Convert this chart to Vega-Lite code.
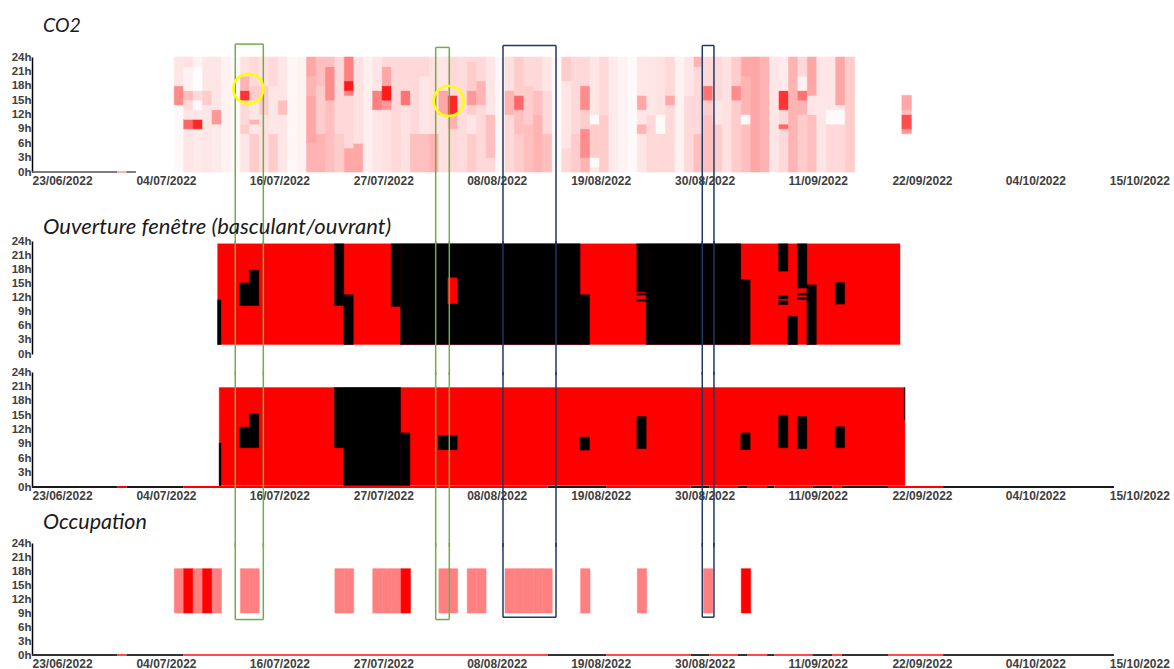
{
"$schema": "https://vega.github.io/schema/vega-lite/v6.json",
"padding": {"left": 11, "top": 16, "right": 4, "bottom": 0},
"background": "#ffffff",
"bounds": "flush",
"spacing": 18,
"config": {
  "view": {"stroke": null},
  "font": "Liberation Sans",
  "axis": {"labelFont": "Liberation Sans", "labelFontWeight": "bold", "labelColor": "#404040", "title": null, "grid": false, "ticks": false, "labelOverlap": false, "labelFlush": false, "labelSeparation": 0},
  "axisX": {"labelFontSize": 12},
  "axisY": {"labelFontSize": 11.5, "labelOverlap": false, "tickCount": 12},
  "title": {"font": "Lato", "fontStyle": "italic", "fontWeight": "normal", "fontSize": 19, "anchor": "start", "frame": "group", "color": "#1a1a1a", "baseline": "alphabetic", "dx": 11}
},
"datasets": {
  "co2": [
{"d":"2022-07-08","a":0,"b":14,"v":430},{"d":"2022-07-08","a":14,"b":18,"v":900},{"d":"2022-07-08","a":18,"b":24,"v":510},
{"d":"2022-07-09","a":0,"b":9,"v":510},{"d":"2022-07-09","a":9,"b":11,"v":1060},{"d":"2022-07-09","a":11,"b":13,"v":510},{"d":"2022-07-09","a":13,"b":15,"v":560},{"d":"2022-07-09","a":15,"b":17,"v":680},{"d":"2022-07-09","a":17,"b":22,"v":455},{"d":"2022-07-09","a":22,"b":24,"v":530},
{"d":"2022-07-10","a":0,"b":9,"v":490},{"d":"2022-07-10","a":9,"b":11,"v":1340},{"d":"2022-07-10","a":11,"b":13,"v":510},{"d":"2022-07-10","a":13,"b":15,"v":430},{"d":"2022-07-10","a":15,"b":17,"v":560},{"d":"2022-07-10","a":17,"b":22,"v":410},{"d":"2022-07-10","a":22,"b":24,"v":455},
{"d":"2022-07-11","a":0,"b":14,"v":510},{"d":"2022-07-11","a":14,"b":17,"v":620},{"d":"2022-07-11","a":17,"b":24,"v":510},
{"d":"2022-07-12","a":0,"b":10,"v":490},{"d":"2022-07-12","a":10,"b":13,"v":840},{"d":"2022-07-12","a":13,"b":24,"v":510},
{"d":"2022-07-13","a":0,"b":24,"v":455},
{"d":"2022-07-14","a":0,"b":24,"v":420},
{"d":"2022-07-15","a":0,"b":8,"v":510},{"d":"2022-07-15","a":8,"b":10,"v":620},{"d":"2022-07-15","a":10,"b":15,"v":565},{"d":"2022-07-15","a":15,"b":17,"v":1280},{"d":"2022-07-15","a":17,"b":20,"v":730},{"d":"2022-07-15","a":20,"b":24,"v":530},
{"d":"2022-07-16","a":0,"b":8,"v":620},{"d":"2022-07-16","a":8,"b":10,"v":510},{"d":"2022-07-16","a":10,"b":11,"v":730},{"d":"2022-07-16","a":11,"b":15,"v":510},{"d":"2022-07-16","a":15,"b":18,"v":620},{"d":"2022-07-16","a":18,"b":24,"v":565},
{"d":"2022-07-17","a":0,"b":12,"v":530},{"d":"2022-07-17","a":12,"b":18,"v":620},{"d":"2022-07-17","a":18,"b":24,"v":530},
{"d":"2022-07-18","a":0,"b":8,"v":620},{"d":"2022-07-18","a":8,"b":18,"v":510},{"d":"2022-07-18","a":18,"b":24,"v":565},
{"d":"2022-07-19","a":0,"b":12,"v":510},{"d":"2022-07-19","a":12,"b":15,"v":675},{"d":"2022-07-19","a":15,"b":24,"v":510},
{"d":"2022-07-20","a":0,"b":24,"v":433},
{"d":"2022-07-21","a":0,"b":24,"v":455},
{"d":"2022-07-22","a":0,"b":6,"v":730},{"d":"2022-07-22","a":6,"b":16,"v":785},{"d":"2022-07-22","a":16,"b":20,"v":730},{"d":"2022-07-22","a":20,"b":24,"v":785},
{"d":"2022-07-23","a":0,"b":8,"v":730},{"d":"2022-07-23","a":8,"b":18,"v":620},{"d":"2022-07-23","a":18,"b":24,"v":675},
{"d":"2022-07-24","a":0,"b":15,"v":675},{"d":"2022-07-24","a":15,"b":22,"v":895},{"d":"2022-07-24","a":22,"b":24,"v":675},
{"d":"2022-07-25","a":0,"b":8,"v":620},{"d":"2022-07-25","a":8,"b":24,"v":565},
{"d":"2022-07-26","a":0,"b":5,"v":785},{"d":"2022-07-26","a":5,"b":16,"v":565},{"d":"2022-07-26","a":16,"b":17,"v":950},{"d":"2022-07-26","a":17,"b":19,"v":1390},{"d":"2022-07-26","a":19,"b":24,"v":950},
{"d":"2022-07-27","a":0,"b":6,"v":785},{"d":"2022-07-27","a":6,"b":24,"v":530},
{"d":"2022-07-28","a":0,"b":24,"v":470},
{"d":"2022-07-29","a":0,"b":13,"v":510},{"d":"2022-07-29","a":13,"b":17,"v":950},{"d":"2022-07-29","a":17,"b":24,"v":510},
{"d":"2022-07-30","a":0,"b":13,"v":530},{"d":"2022-07-30","a":13,"b":15,"v":840},{"d":"2022-07-30","a":15,"b":18,"v":1390},{"d":"2022-07-30","a":18,"b":22,"v":785},{"d":"2022-07-30","a":22,"b":24,"v":565},
{"d":"2022-07-31","a":0,"b":24,"v":565},
{"d":"2022-08-01","a":0,"b":14,"v":530},{"d":"2022-08-01","a":14,"b":17,"v":1005},{"d":"2022-08-01","a":17,"b":24,"v":565},
{"d":"2022-08-02","a":0,"b":8,"v":675},{"d":"2022-08-02","a":8,"b":24,"v":565},
{"d":"2022-08-03","a":0,"b":8,"v":675},{"d":"2022-08-03","a":8,"b":20,"v":510},{"d":"2022-08-03","a":20,"b":24,"v":565},
{"d":"2022-08-04","a":0,"b":8,"v":730},{"d":"2022-08-04","a":8,"b":24,"v":530},
{"d":"2022-08-05","a":0,"b":12,"v":530},{"d":"2022-08-05","a":12,"b":17,"v":785},{"d":"2022-08-05","a":17,"b":24,"v":510},
{"d":"2022-08-06","a":0,"b":9,"v":565},{"d":"2022-08-06","a":9,"b":12,"v":730},{"d":"2022-08-06","a":12,"b":16,"v":1335},{"d":"2022-08-06","a":16,"b":24,"v":565},
{"d":"2022-08-07","a":0,"b":24,"v":550},
{"d":"2022-08-08","a":0,"b":8,"v":620},{"d":"2022-08-08","a":8,"b":12,"v":510},{"d":"2022-08-08","a":12,"b":14,"v":620},{"d":"2022-08-08","a":14,"b":17,"v":840},{"d":"2022-08-08","a":17,"b":23,"v":620},{"d":"2022-08-08","a":23,"b":24,"v":565},
{"d":"2022-08-09","a":0,"b":14,"v":565},{"d":"2022-08-09","a":14,"b":19,"v":730},{"d":"2022-08-09","a":19,"b":24,"v":565},
{"d":"2022-08-10","a":0,"b":3,"v":565},{"d":"2022-08-10","a":3,"b":12,"v":675},{"d":"2022-08-10","a":12,"b":24,"v":510},
{"d":"2022-08-11","a":0,"b":24,"v":433},
{"d":"2022-08-12","a":0,"b":12,"v":565},{"d":"2022-08-12","a":12,"b":17,"v":730},{"d":"2022-08-12","a":17,"b":24,"v":540},
{"d":"2022-08-13","a":0,"b":8,"v":620},{"d":"2022-08-13","a":8,"b":13,"v":675},{"d":"2022-08-13","a":13,"b":16,"v":1060},{"d":"2022-08-13","a":16,"b":24,"v":620},
{"d":"2022-08-14","a":0,"b":10,"v":675},{"d":"2022-08-14","a":10,"b":18,"v":620},{"d":"2022-08-14","a":18,"b":24,"v":565},
{"d":"2022-08-15","a":0,"b":12,"v":730},{"d":"2022-08-15","a":12,"b":17,"v":675},{"d":"2022-08-15","a":17,"b":24,"v":565},
{"d":"2022-08-16","a":0,"b":8,"v":675},{"d":"2022-08-16","a":8,"b":17,"v":565},{"d":"2022-08-16","a":17,"b":24,"v":510},
{"d":"2022-08-17","a":0,"b":24,"v":420},
{"d":"2022-08-18","a":0,"b":5,"v":565},{"d":"2022-08-18","a":5,"b":19,"v":510},{"d":"2022-08-18","a":19,"b":24,"v":620},
{"d":"2022-08-19","a":0,"b":8,"v":620},{"d":"2022-08-19","a":8,"b":24,"v":565},
{"d":"2022-08-20","a":0,"b":3,"v":730},{"d":"2022-08-20","a":3,"b":9,"v":895},{"d":"2022-08-20","a":9,"b":13,"v":620},{"d":"2022-08-20","a":13,"b":18,"v":895},{"d":"2022-08-20","a":18,"b":24,"v":565},
{"d":"2022-08-21","a":0,"b":1,"v":510},{"d":"2022-08-21","a":1,"b":3,"v":420},{"d":"2022-08-21","a":3,"b":10,"v":620},{"d":"2022-08-21","a":10,"b":12,"v":420},{"d":"2022-08-21","a":12,"b":24,"v":510},
{"d":"2022-08-22","a":0,"b":12,"v":620},{"d":"2022-08-22","a":12,"b":24,"v":565},
{"d":"2022-08-23","a":0,"b":24,"v":488},
{"d":"2022-08-24","a":0,"b":24,"v":455},
{"d":"2022-08-25","a":0,"b":24,"v":420},
{"d":"2022-08-26","a":0,"b":8,"v":510},{"d":"2022-08-26","a":8,"b":10,"v":730},{"d":"2022-08-26","a":10,"b":13,"v":510},{"d":"2022-08-26","a":13,"b":16,"v":785},{"d":"2022-08-26","a":16,"b":24,"v":510},
{"d":"2022-08-27","a":0,"b":12,"v":565},{"d":"2022-08-27","a":12,"b":24,"v":510},
{"d":"2022-08-28","a":0,"b":8,"v":565},{"d":"2022-08-28","a":8,"b":12,"v":420},{"d":"2022-08-28","a":12,"b":24,"v":530},
{"d":"2022-08-29","a":0,"b":14,"v":565},{"d":"2022-08-29","a":14,"b":16,"v":785},{"d":"2022-08-29","a":16,"b":24,"v":565},
{"d":"2022-08-30","a":0,"b":24,"v":455},
{"d":"2022-08-31","a":0,"b":16,"v":565},{"d":"2022-08-31","a":16,"b":24,"v":510},
{"d":"2022-09-01","a":0,"b":8,"v":675},{"d":"2022-09-01","a":8,"b":22,"v":565},{"d":"2022-09-01","a":22,"b":24,"v":730},
{"d":"2022-09-02","a":0,"b":12,"v":675},{"d":"2022-09-02","a":12,"b":15,"v":620},{"d":"2022-09-02","a":15,"b":18,"v":1005},{"d":"2022-09-02","a":18,"b":24,"v":565},
{"d":"2022-09-03","a":0,"b":10,"v":620},{"d":"2022-09-03","a":10,"b":15,"v":510},{"d":"2022-09-03","a":15,"b":24,"v":565},
{"d":"2022-09-04","a":0,"b":24,"v":530},
{"d":"2022-09-05","a":0,"b":15,"v":620},{"d":"2022-09-05","a":15,"b":18,"v":895},{"d":"2022-09-05","a":18,"b":24,"v":620},
{"d":"2022-09-06","a":0,"b":10,"v":675},{"d":"2022-09-06","a":10,"b":12,"v":420},{"d":"2022-09-06","a":12,"b":20,"v":730},{"d":"2022-09-06","a":20,"b":24,"v":785},
{"d":"2022-09-07","a":0,"b":24,"v":785},
{"d":"2022-09-08","a":0,"b":24,"v":730},
{"d":"2022-09-09","a":0,"b":24,"v":510},
{"d":"2022-09-10","a":0,"b":9,"v":565},{"d":"2022-09-10","a":9,"b":10,"v":1060},{"d":"2022-09-10","a":10,"b":13,"v":565},{"d":"2022-09-10","a":13,"b":17,"v":1280},{"d":"2022-09-10","a":17,"b":24,"v":488},
{"d":"2022-09-11","a":0,"b":24,"v":730},
{"d":"2022-09-12","a":0,"b":12,"v":620},{"d":"2022-09-12","a":12,"b":15,"v":730},{"d":"2022-09-12","a":15,"b":17,"v":1005},{"d":"2022-09-12","a":17,"b":20,"v":455},{"d":"2022-09-12","a":20,"b":24,"v":565},
{"d":"2022-09-13","a":0,"b":12,"v":675},{"d":"2022-09-13","a":12,"b":16,"v":510},{"d":"2022-09-13","a":16,"b":24,"v":785},
{"d":"2022-09-14","a":0,"b":24,"v":510},
{"d":"2022-09-15","a":0,"b":10,"v":565},{"d":"2022-09-15","a":10,"b":13,"v":420},{"d":"2022-09-15","a":13,"b":24,"v":510},
{"d":"2022-09-16","a":0,"b":10,"v":565},{"d":"2022-09-16","a":10,"b":13,"v":420},{"d":"2022-09-16","a":13,"b":14,"v":510},{"d":"2022-09-16","a":14,"b":24,"v":785},
{"d":"2022-09-17","a":0,"b":24,"v":620},
{"d":"2022-09-23","a":8,"b":9,"v":840},{"d":"2022-09-23","a":9,"b":12,"v":1170},{"d":"2022-09-23","a":12,"b":13,"v":675},{"d":"2022-09-23","a":13,"b":16,"v":785}
  ],
  "bas": [
{"a":"2022-07-12T15:30","b":"2022-09-22T20:30","h0":2,"h1":23.4,"e":"fermé"},
{"a":"2022-07-12T15:30","b":"2022-07-13T00:00","h0":2,"h1":11.5,"e":"ouvert"},
{"a":"2022-07-15T00:00","b":"2022-07-16T00:00","h0":10.3,"h1":15.1,"e":"ouvert"},
{"a":"2022-07-16T00:00","b":"2022-07-17T00:00","h0":10.3,"h1":17.8,"e":"ouvert"},
{"a":"2022-07-25T00:00","b":"2022-07-26T00:00","h0":10.3,"h1":23.4,"e":"ouvert"},
{"a":"2022-07-26T00:00","b":"2022-07-27T00:00","h0":2,"h1":12.6,"e":"ouvert"},
{"a":"2022-07-31T00:00","b":"2022-08-01T00:00","h0":10.1,"h1":23.4,"e":"ouvert"},
{"a":"2022-08-01T00:00","b":"2022-08-20T00:00","h0":2,"h1":23.4,"e":"ouvert"},
{"a":"2022-08-20T00:00","b":"2022-08-21T00:00","h0":2,"h1":12.6,"e":"ouvert"},
{"a":"2022-08-06T00:00","b":"2022-08-07T00:00","h0":10.7,"h1":16.2,"e":"fermé"},
{"a":"2022-08-26T00:00","b":"2022-08-27T00:00","h0":13.2,"h1":23.4,"e":"ouvert"},
{"a":"2022-08-26T00:00","b":"2022-08-27T00:00","h0":12.5,"h1":12.9,"e":"ouvert"},
{"a":"2022-08-26T00:00","b":"2022-08-27T00:00","h0":11.2,"h1":11.6,"e":"ouvert"},
{"a":"2022-08-27T00:00","b":"2022-09-06T00:00","h0":2,"h1":23.4,"e":"ouvert"},
{"a":"2022-09-06T00:00","b":"2022-09-07T00:00","h0":2,"h1":15.8,"e":"ouvert"},
{"a":"2022-09-10T00:00","b":"2022-09-11T00:00","h0":17.6,"h1":23.4,"e":"ouvert"},
{"a":"2022-09-10T00:00","b":"2022-09-11T00:00","h0":11.7,"h1":12.4,"e":"ouvert"},
{"a":"2022-09-10T00:00","b":"2022-09-11T00:00","h0":10.5,"h1":11.3,"e":"ouvert"},
{"a":"2022-09-11T00:00","b":"2022-09-12T00:00","h0":2,"h1":8,"e":"ouvert"},
{"a":"2022-09-12T00:00","b":"2022-09-13T00:00","h0":14,"h1":23.4,"e":"ouvert"},
{"a":"2022-09-12T00:00","b":"2022-09-13T00:00","h0":12.5,"h1":12.9,"e":"ouvert"},
{"a":"2022-09-12T00:00","b":"2022-09-13T00:00","h0":11.6,"h1":12,"e":"ouvert"},
{"a":"2022-09-13T00:00","b":"2022-09-14T00:00","h0":2,"h1":14.7,"e":"ouvert"},
{"a":"2022-09-16T00:00","b":"2022-09-17T00:00","h0":10.6,"h1":15.2,"e":"ouvert"}
  ],
  "ouv": [
{"a":"2022-07-12T19:30","b":"2022-09-23T09:00","h0":0.3,"h1":20.75,"e":"fermé"},
{"a":"2022-07-12T19:30","b":"2022-07-13T00:00","h0":0.3,"h1":9.2,"e":"ouvert"},
{"a":"2022-07-15T00:00","b":"2022-07-16T00:00","h0":8.2,"h1":12.5,"e":"ouvert"},
{"a":"2022-07-16T00:00","b":"2022-07-17T00:00","h0":8.2,"h1":15.3,"e":"ouvert"},
{"a":"2022-07-25T00:00","b":"2022-07-26T00:00","h0":8.2,"h1":20.75,"e":"ouvert"},
{"a":"2022-07-26T00:00","b":"2022-08-01T00:00","h0":0.3,"h1":20.75,"e":"ouvert"},
{"a":"2022-08-01T00:00","b":"2022-08-02T00:00","h0":0.3,"h1":11.3,"e":"ouvert"},
{"a":"2022-08-05T00:00","b":"2022-08-07T00:00","h0":7.8,"h1":10.75,"e":"ouvert"},
{"a":"2022-08-20T00:00","b":"2022-08-21T00:00","h0":7.7,"h1":10.4,"e":"ouvert"},
{"a":"2022-08-26T00:00","b":"2022-08-27T00:00","h0":8,"h1":14.7,"e":"ouvert"},
{"a":"2022-09-06T00:00","b":"2022-09-07T00:00","h0":7.8,"h1":11.3,"e":"ouvert"},
{"a":"2022-09-10T00:00","b":"2022-09-11T00:00","h0":8.2,"h1":15,"e":"ouvert"},
{"a":"2022-09-12T00:00","b":"2022-09-13T00:00","h0":8,"h1":14.7,"e":"ouvert"},
{"a":"2022-09-16T00:00","b":"2022-09-17T00:00","h0":8.2,"h1":12.6,"e":"ouvert"},
{"a":"2022-09-23T07:30","b":"2022-09-23T09:00","h0":14,"h1":20.75,"e":"ouvert"}
  ],
  "occ": [
{"d":"2022-07-08","h0":9,"h1":18.5,"n":"partielle"},{"d":"2022-07-09","h0":9,"h1":18.5,"n":"complète"},{"d":"2022-07-10","h0":9,"h1":18.5,"n":"partielle"},{"d":"2022-07-11","h0":9,"h1":18.5,"n":"complète"},{"d":"2022-07-12","h0":9,"h1":18.5,"n":"partielle"},
{"d":"2022-07-15","h0":9,"h1":18.5,"n":"partielle"},{"d":"2022-07-16","h0":9,"h1":18.5,"n":"partielle"},
{"d":"2022-07-25","h0":9,"h1":18.5,"n":"partielle"},{"d":"2022-07-26","h0":9,"h1":18.5,"n":"partielle"},
{"d":"2022-07-29","h0":9,"h1":18.5,"n":"partielle"},{"d":"2022-07-30","h0":9,"h1":18.5,"n":"partielle"},{"d":"2022-07-31","h0":9,"h1":18.5,"n":"partielle"},{"d":"2022-08-01","h0":9,"h1":18.5,"n":"complète"},
{"d":"2022-08-05","h0":9,"h1":18.5,"n":"partielle"},{"d":"2022-08-06","h0":9,"h1":18.5,"n":"partielle"},
{"d":"2022-08-08","h0":9,"h1":18.5,"n":"partielle"},{"d":"2022-08-09","h0":9,"h1":18.5,"n":"partielle"},
{"d":"2022-08-12","h0":9,"h1":18.5,"n":"partielle"},{"d":"2022-08-13","h0":9,"h1":18.5,"n":"partielle"},{"d":"2022-08-14","h0":9,"h1":18.5,"n":"partielle"},{"d":"2022-08-15","h0":9,"h1":18.5,"n":"partielle"},{"d":"2022-08-16","h0":9,"h1":18.5,"n":"partielle"},
{"d":"2022-08-20","h0":9,"h1":18.5,"n":"partielle"},
{"d":"2022-08-26","h0":9,"h1":18.5,"n":"partielle"},
{"d":"2022-09-02","h0":9,"h1":18.5,"n":"partielle"},
{"d":"2022-09-06","h0":9,"h1":18.5,"n":"complète"}
  ],
  "strip": [
{"a":"2022-06-23T00:00","b":"2022-07-02T00:00","e":"ouvert"},
{"a":"2022-07-02T00:00","b":"2022-07-03T00:00","e":"fermé"},
{"a":"2022-07-03T00:00","b":"2022-07-09T00:00","e":"ouvert"},
{"a":"2022-07-09T00:00","b":"2022-08-16T14:00","e":"fermé"},
{"a":"2022-08-16T14:00","b":"2022-08-22T18:00","e":"ouvert"},
{"a":"2022-08-22T18:00","b":"2022-08-31T17:00","e":"fermé"},
{"a":"2022-08-31T17:00","b":"2022-09-02T17:00","e":"ouvert"},
{"a":"2022-09-02T17:00","b":"2022-09-05T17:00","e":"fermé"},
{"a":"2022-09-05T17:00","b":"2022-09-06T16:00","e":"ouvert"},
{"a":"2022-09-06T16:00","b":"2022-09-08T19:00","e":"fermé"},
{"a":"2022-09-08T19:00","b":"2022-09-09T14:00","e":"ouvert"},
{"a":"2022-09-09T14:00","b":"2022-09-13T14:00","e":"fermé"},
{"a":"2022-09-13T14:00","b":"2022-09-15T16:00","e":"ouvert"},
{"a":"2022-09-15T16:00","b":"2022-09-16T17:00","e":"fermé"},
{"a":"2022-09-16T17:00","b":"2022-09-21T14:00","e":"ouvert"},
{"a":"2022-09-21T14:00","b":"2022-09-27T10:00","e":"fermé"},
{"a":"2022-09-27T10:00","b":"2022-10-15T12:00","e":"ouvert"}
  ],
  "annot": [
{"c":"vert","a":"2022-07-14T12:15","b":"2022-07-17T11:30","top":26.7,"bot":7.6},
{"c":"vert","a":"2022-08-04T17:15","b":"2022-08-06T03:50","top":26.0,"bot":7.6},
{"c":"bleu","a":"2022-08-11T20:10","b":"2022-08-17T10:50","top":26.4,"bot":8.1},
{"c":"bleu","a":"2022-09-01T22:20","b":"2022-09-03T04:00","top":26.4,"bot":8.1}
  ],
  "cercles": [
{"t":"2022-07-15T21:20","h":17.4},
{"t":"2022-08-06T02:10","h":14.8}
  ]
},
"vconcat": [
 {
  "width": 1082, "height": 115,
  "title": {"text": "CO2", "offset": 6.5, "fontSize": 19.5},
  "resolve": {"scale": {"color": "independent", "stroke": "independent"}},
  "layer": [
   {"data": {"name": "co2", "format": {"parse": {"d": "date:'%Y-%m-%d'"}}},
    "mark": {"type": "rect", "strokeWidth": 0.6},
    "encoding": {
     "x": {"field": "d", "timeUnit": "yearmonthdate", "type": "temporal",
           "scale": {"domain": [{"year":2022,"month":6,"date":23},{"year":2022,"month":10,"date":15,"hours":12}], "nice": false},
           "axis": {"values": [{"year":2022,"month":6,"date":23},{"year":2022,"month":7,"date":4},{"year":2022,"month":7,"date":16},{"year":2022,"month":7,"date":27},{"year":2022,"month":8,"date":8},{"year":2022,"month":8,"date":19},{"year":2022,"month":8,"date":30},{"year":2022,"month":9,"date":11},{"year":2022,"month":9,"date":22},{"year":2022,"month":10,"date":4},{"year":2022,"month":10,"date":15}],
                    "format": "%d/%m/%Y", "labelAlign": "left", "labelFlush": false, "labelOverlap": false, "ticks": false, "grid": false, "domain": false, "title": null, "labelPadding": 3.5, "tickCount": 40}},
     "y": {"field": "a", "type": "quantitative", "scale": {"domain": [0, 24], "nice": false},
           "axis": {"values": [0,3,6,9,12,15,18,21,24], "tickCount": 12, "labelExpr": "datum.value + 'h'", "labelOverlap": false, "ticks": false, "grid": false, "title": null, "domainColor": "#000000", "domainWidth": 1.5, "labelPadding": 1, "labelFlush": false}},
     "y2": {"field": "b"},
     "color": {"field": "v", "type": "quantitative", "scale": {"domain": [400, 1500], "range": ["#ffffff", "#ff0000"], "interpolate": "rgb"}, "legend": null},
     "stroke": {"field": "v", "type": "quantitative", "scale": {"domain": [400, 1500], "range": ["#ffffff", "#ff0000"], "interpolate": "rgb"}, "legend": null}
    }},
   {"data": {"values": [{"a":"2022-06-23T00:00","b":"2022-07-02T00:00","e":"ouvert"},{"a":"2022-07-02T00:00","b":"2022-07-03T00:00","e":"fermé"},{"a":"2022-07-03T00:00","b":"2022-07-04T00:00","e":"ouvert"}]},
    "mark": {"type": "rule", "strokeWidth": 1.5},
    "encoding": {
     "x": {"field": "a", "type": "temporal", "scale": {"domain": [{"year":2022,"month":6,"date":23},{"year":2022,"month":10,"date":15,"hours":12}], "nice": false}},
     "x2": {"field": "b"},
     "y": {"datum": 0, "type": "quantitative", "scale": {"domain": [0, 24], "nice": false}},
     "color": {"field": "e", "type": "nominal", "scale": {"domain": ["fermé", "ouvert"], "range": ["#ff9a9a", "#505050"]}, "legend": null}
    }},
   {"data": {"name": "annot"},
    "mark": {"type": "rule", "strokeWidth": 1.5},
    "encoding": {
     "x": {"field": "a", "type": "temporal", "scale": {"domain": [{"year":2022,"month":6,"date":23},{"year":2022,"month":10,"date":15,"hours":12}], "nice": false}},
     "y": {"field": "top", "type": "quantitative", "scale": {"domain": [0, 24], "nice": false}},
     "y2": {"datum": -15},
     "color": {"field": "c", "type": "nominal", "scale": {"domain": ["vert", "bleu"], "range": ["#70ad47", "#1f3864"]}, "legend": null}
    }},
   {"data": {"name": "annot"},
    "mark": {"type": "rule", "strokeWidth": 1.5},
    "encoding": {
     "x": {"field": "b", "type": "temporal", "scale": {"domain": [{"year":2022,"month":6,"date":23},{"year":2022,"month":10,"date":15,"hours":12}], "nice": false}},
     "y": {"field": "top", "type": "quantitative", "scale": {"domain": [0, 24], "nice": false}},
     "y2": {"datum": -15},
     "color": {"field": "c", "type": "nominal", "scale": {"domain": ["vert", "bleu"], "range": ["#70ad47", "#1f3864"]}, "legend": null}
    }},
   {"data": {"name": "annot"},
    "mark": {"type": "rule", "strokeWidth": 1.5},
    "encoding": {
     "x": {"field": "a", "type": "temporal", "scale": {"domain": [{"year":2022,"month":6,"date":23},{"year":2022,"month":10,"date":15,"hours":12}], "nice": false}},
     "x2": {"field": "b"},
     "y": {"field": "top", "type": "quantitative", "scale": {"domain": [0, 24], "nice": false}},
     "color": {"field": "c", "type": "nominal", "scale": {"domain": ["vert", "bleu"], "range": ["#70ad47", "#1f3864"]}, "legend": null}
    }},
   {"data": {"name": "cercles"},
    "mark": {"type": "point", "shape": "circle", "filled": false, "stroke": "#ffff00", "strokeWidth": 2.5, "size": 900, "opacity": 1},
    "encoding": {
     "x": {"field": "t", "type": "temporal", "scale": {"domain": [{"year":2022,"month":6,"date":23},{"year":2022,"month":10,"date":15,"hours":12}], "nice": false}},
     "y": {"field": "h", "type": "quantitative", "scale": {"domain": [0, 24], "nice": false}}
    }}
  ]
 },
 {"width": 1082, "height": 33, "data": {"values": [{"k": 1}]}, "mark": {"type": "point", "opacity": 0}, "encoding": {}},
 {
  "width": 1082, "height": 113,
  "title": {"text": "Ouverture fenêtre (basculant/ouvrant)", "offset": -4, "fontSize": 22},
  "resolve": {"scale": {"color": "independent", "stroke": "independent"}},
  "layer": [
   {"data": {"name": "bas"},
    "mark": {"type": "rect", "strokeWidth": 0.4},
    "encoding": {
     "x": {"field": "a", "type": "temporal", "scale": {"domain": [{"year":2022,"month":6,"date":23},{"year":2022,"month":10,"date":15,"hours":12}], "nice": false}, "axis": {"labels": false, "domain": false, "ticks": false, "grid": false, "title": null}},
     "x2": {"field": "b"},
     "y": {"field": "h0", "type": "quantitative", "scale": {"domain": [0, 24], "nice": false},
           "axis": {"values": [0,3,6,9,12,15,18,21,24], "tickCount": 12, "labelExpr": "datum.value + 'h'", "labelOverlap": false, "ticks": false, "grid": false, "title": null, "domainColor": "#000000", "domainWidth": 1.5, "labelPadding": 1, "labelFlush": false}},
     "y2": {"field": "h1"},
     "color": {"field": "e", "type": "nominal", "scale": {"domain": ["fermé", "ouvert"], "range": ["#ff0000", "#000000"]}, "legend": null},
     "stroke": {"field": "e", "type": "nominal", "scale": {"domain": ["fermé", "ouvert"], "range": ["#ff0000", "#000000"]}, "legend": null}
    }},
   {"data": {"name": "annot"},
    "mark": {"type": "rule", "strokeWidth": 1.5},
    "encoding": {
     "x": {"field": "a", "type": "temporal", "scale": {"domain": [{"year":2022,"month":6,"date":23},{"year":2022,"month":10,"date":15,"hours":12}], "nice": false}},
     "y": {"datum": 24, "type": "quantitative", "scale": {"domain": [0, 24], "nice": false}},
     "y2": {"datum": -4.5},
     "color": {"field": "c", "type": "nominal", "scale": {"domain": ["vert", "bleu"], "range": ["#70ad47", "#1f3864"]}, "legend": null}
    }},
   {"data": {"name": "annot"},
    "mark": {"type": "rule", "strokeWidth": 1.5},
    "encoding": {
     "x": {"field": "b", "type": "temporal", "scale": {"domain": [{"year":2022,"month":6,"date":23},{"year":2022,"month":10,"date":15,"hours":12}], "nice": false}},
     "y": {"datum": 24, "type": "quantitative", "scale": {"domain": [0, 24], "nice": false}},
     "y2": {"datum": -4.5},
     "color": {"field": "c", "type": "nominal", "scale": {"domain": ["vert", "bleu"], "range": ["#70ad47", "#1f3864"]}, "legend": null}
    }}
  ]
 },
 {
  "width": 1082, "height": 115,
  "resolve": {"scale": {"color": "independent", "stroke": "independent"}},
  "layer": [
   {"data": {"name": "ouv"},
    "mark": {"type": "rect", "strokeWidth": 0.4},
    "encoding": {
     "x": {"field": "a", "type": "temporal", "scale": {"domain": [{"year":2022,"month":6,"date":23},{"year":2022,"month":10,"date":15,"hours":12}], "nice": false},
           "axis": {"values": [{"year":2022,"month":6,"date":23},{"year":2022,"month":7,"date":4},{"year":2022,"month":7,"date":16},{"year":2022,"month":7,"date":27},{"year":2022,"month":8,"date":8},{"year":2022,"month":8,"date":19},{"year":2022,"month":8,"date":30},{"year":2022,"month":9,"date":11},{"year":2022,"month":9,"date":22},{"year":2022,"month":10,"date":4},{"year":2022,"month":10,"date":15}],
                    "format": "%d/%m/%Y", "labelAlign": "left", "labelFlush": false, "labelOverlap": false, "ticks": false, "grid": false, "domain": false, "title": null, "labelPadding": 3, "tickCount": 40}},
     "x2": {"field": "b"},
     "y": {"field": "h0", "type": "quantitative", "scale": {"domain": [0, 24], "nice": false},
           "axis": {"values": [0,3,6,9,12,15,18,21,24], "tickCount": 12, "labelExpr": "datum.value + 'h'", "labelOverlap": false, "ticks": false, "grid": false, "title": null, "domainColor": "#000000", "domainWidth": 1.5, "labelPadding": 1, "labelFlush": false}},
     "y2": {"field": "h1"},
     "color": {"field": "e", "type": "nominal", "scale": {"domain": ["fermé", "ouvert"], "range": ["#ff0000", "#000000"]}, "legend": null},
     "stroke": {"field": "e", "type": "nominal", "scale": {"domain": ["fermé", "ouvert"], "range": ["#ff0000", "#000000"]}, "legend": null}
    }},
   {"data": {"name": "strip"},
    "mark": {"type": "rule", "strokeWidth": 2},
    "encoding": {
     "x": {"field": "a", "type": "temporal", "scale": {"domain": [{"year":2022,"month":6,"date":23},{"year":2022,"month":10,"date":15,"hours":12}], "nice": false}},
     "x2": {"field": "b"},
     "y": {"datum": 0, "type": "quantitative", "scale": {"domain": [0, 24], "nice": false}},
     "color": {"field": "e", "type": "nominal", "scale": {"domain": ["fermé", "ouvert"], "range": ["#ff0000", "#1a1a1a"]}, "legend": null}
    }},
   {"data": {"name": "annot"},
    "mark": {"type": "rule", "strokeWidth": 1.5},
    "encoding": {
     "x": {"field": "a", "type": "temporal", "scale": {"domain": [{"year":2022,"month":6,"date":23},{"year":2022,"month":10,"date":15,"hours":12}], "nice": false}},
     "y": {"datum": 24, "type": "quantitative", "scale": {"domain": [0, 24], "nice": false}},
     "y2": {"datum": -12.5},
     "color": {"field": "c", "type": "nominal", "scale": {"domain": ["vert", "bleu"], "range": ["#70ad47", "#1f3864"]}, "legend": null}
    }},
   {"data": {"name": "annot"},
    "mark": {"type": "rule", "strokeWidth": 1.5},
    "encoding": {
     "x": {"field": "b", "type": "temporal", "scale": {"domain": [{"year":2022,"month":6,"date":23},{"year":2022,"month":10,"date":15,"hours":12}], "nice": false}},
     "y": {"datum": 24, "type": "quantitative", "scale": {"domain": [0, 24], "nice": false}},
     "y2": {"datum": -12.5},
     "color": {"field": "c", "type": "nominal", "scale": {"domain": ["vert", "bleu"], "range": ["#70ad47", "#1f3864"]}, "legend": null}
    }}
  ]
 },
 {"width": 1082, "height": 20, "data": {"values": [{"k": 1}]}, "mark": {"type": "point", "opacity": 0}, "encoding": {}},
 {
  "width": 1082, "height": 112,
  "title": {"text": "Occupation", "offset": 3.5, "fontSize": 21.5},
  "resolve": {"scale": {"color": "independent", "stroke": "independent"}},
  "layer": [
   {"data": {"name": "occ", "format": {"parse": {"d": "date:'%Y-%m-%d'"}}},
    "mark": {"type": "rect", "strokeWidth": 0.5},
    "encoding": {
     "x": {"field": "d", "timeUnit": "yearmonthdate", "type": "temporal", "scale": {"domain": [{"year":2022,"month":6,"date":23},{"year":2022,"month":10,"date":15,"hours":12}], "nice": false},
           "axis": {"values": [{"year":2022,"month":6,"date":23},{"year":2022,"month":7,"date":4},{"year":2022,"month":7,"date":16},{"year":2022,"month":7,"date":27},{"year":2022,"month":8,"date":8},{"year":2022,"month":8,"date":19},{"year":2022,"month":8,"date":30},{"year":2022,"month":9,"date":11},{"year":2022,"month":9,"date":22},{"year":2022,"month":10,"date":4},{"year":2022,"month":10,"date":15}],
                    "format": "%d/%m/%Y", "labelAlign": "left", "labelFlush": false, "labelOverlap": false, "ticks": false, "grid": false, "domain": false, "title": null, "labelPadding": 3, "tickCount": 40}},
     "y": {"field": "h0", "type": "quantitative", "scale": {"domain": [0, 24], "nice": false},
           "axis": {"values": [0,3,6,9,12,15,18,21,24], "tickCount": 12, "labelExpr": "datum.value + 'h'", "labelOverlap": false, "ticks": false, "grid": false, "title": null, "domainColor": "#000000", "domainWidth": 1.5, "labelPadding": 1, "labelFlush": false}},
     "y2": {"field": "h1"},
     "color": {"field": "n", "type": "nominal", "scale": {"domain": ["partielle", "complète"], "range": ["#ff8080", "#ff0000"]}, "legend": null},
     "stroke": {"field": "n", "type": "nominal", "scale": {"domain": ["partielle", "complète"], "range": ["#ff8080", "#ff0000"]}, "legend": null}
    }},
   {"data": {"name": "strip"},
    "mark": {"type": "rule", "strokeWidth": 2},
    "encoding": {
     "x": {"field": "a", "type": "temporal", "scale": {"domain": [{"year":2022,"month":6,"date":23},{"year":2022,"month":10,"date":15,"hours":12}], "nice": false}},
     "x2": {"field": "b"},
     "y": {"datum": 0, "type": "quantitative", "scale": {"domain": [0, 24], "nice": false}},
     "color": {"field": "e", "type": "nominal", "scale": {"domain": ["fermé", "ouvert"], "range": ["#ff4a4a", "#333333"]}, "legend": null}
    }},
   {"data": {"name": "annot"},
    "mark": {"type": "rule", "strokeWidth": 1.5},
    "encoding": {
     "x": {"field": "a", "type": "temporal", "scale": {"domain": [{"year":2022,"month":6,"date":23},{"year":2022,"month":10,"date":15,"hours":12}], "nice": false}},
     "y": {"field": "bot", "type": "quantitative", "scale": {"domain": [0, 24], "nice": false}},
     "y2": {"datum": 24},
     "color": {"field": "c", "type": "nominal", "scale": {"domain": ["vert", "bleu"], "range": ["#70ad47", "#1f3864"]}, "legend": null}
    }},
   {"data": {"name": "annot"},
    "mark": {"type": "rule", "strokeWidth": 1.5},
    "encoding": {
     "x": {"field": "b", "type": "temporal", "scale": {"domain": [{"year":2022,"month":6,"date":23},{"year":2022,"month":10,"date":15,"hours":12}], "nice": false}},
     "y": {"field": "bot", "type": "quantitative", "scale": {"domain": [0, 24], "nice": false}},
     "y2": {"datum": 24},
     "color": {"field": "c", "type": "nominal", "scale": {"domain": ["vert", "bleu"], "range": ["#70ad47", "#1f3864"]}, "legend": null}
    }},
   {"data": {"name": "annot"},
    "mark": {"type": "rule", "strokeWidth": 1.5},
    "encoding": {
     "x": {"field": "a", "type": "temporal", "scale": {"domain": [{"year":2022,"month":6,"date":23},{"year":2022,"month":10,"date":15,"hours":12}], "nice": false}},
     "x2": {"field": "b"},
     "y": {"field": "bot", "type": "quantitative", "scale": {"domain": [0, 24], "nice": false}},
     "color": {"field": "c", "type": "nominal", "scale": {"domain": ["vert", "bleu"], "range": ["#70ad47", "#1f3864"]}, "legend": null}
    }}
  ]
 }
]
}
